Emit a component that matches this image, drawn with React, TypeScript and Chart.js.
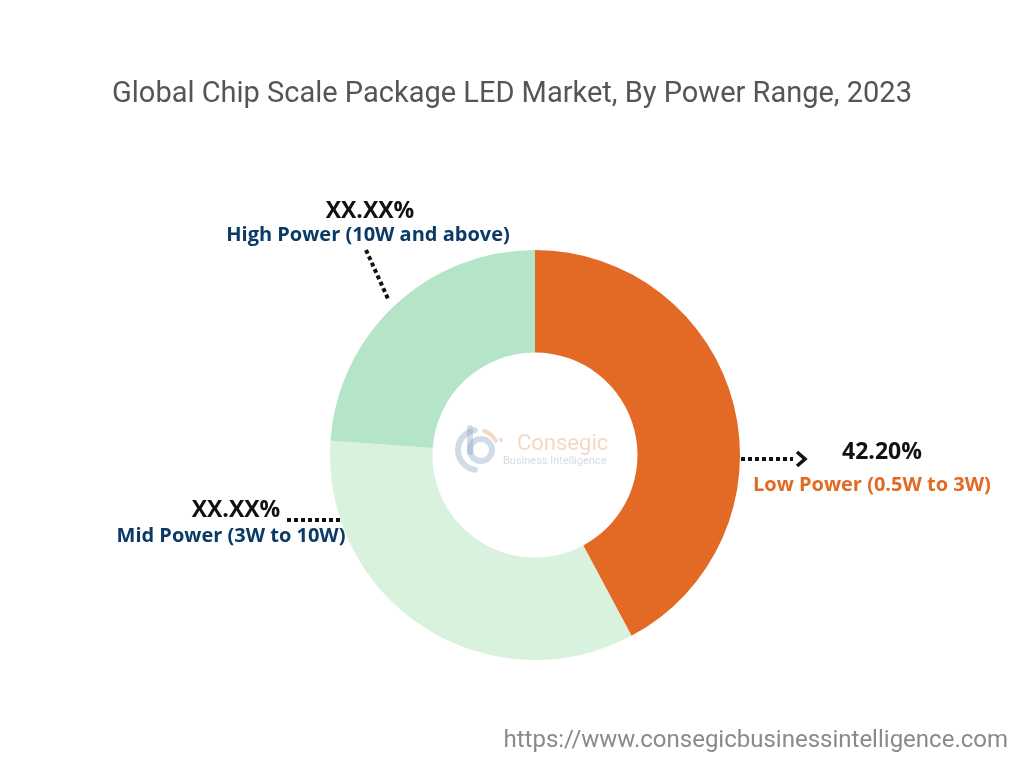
import React, { useEffect, useRef } from "react";
import { Chart, registerables } from "chart.js";

Chart.register(...registerables);

const chartTitle = "Global Chip Scale Package LED Market, By Power Range, 2023";
const categories = ["Low Power (0.5W to 3W)", "Mid Power (3W to 10W)", "High Power (10W and above)"];
const shares = [42.2, 33.9, 23.9];
const shareLabels = ["42.20%", "XX.XX%", "XX.XX%"];
const sliceColors = ["#e36a25", "#d9f2de", "#b5e5c8"];
const labelColors = ["#e36a25", "#0b3a66", "#0b3a66"];
const sourceUrl = "https://www.consegicbusinessintelligence.com";

const FONT = "Roboto, 'Noto Sans', sans-serif";
const LFONT = "'Open Sans', Roboto, sans-serif";

const overlayPlugin = {
  id: "overlay",
  afterDraw(chart: any) {
    const ctx = chart.ctx as CanvasRenderingContext2D;
    ctx.save();
    // title
    ctx.fillStyle = "#555555";
    ctx.font = `400 29px ${FONT}`;
    ctx.textAlign = "center";
    ctx.textBaseline = "middle";
    ctx.fillText(chartTitle, 512, 95);

    // url
    ctx.fillStyle = "#8a8a8a";
    ctx.font = `400 24px ${FONT}`;
    ctx.textAlign = "right";
    ctx.fillText(sourceUrl, 1008, 741);

    // leaders
    ctx.strokeStyle = "#111111";
    ctx.lineWidth = 4;
    ctx.setLineDash([4, 3]);
    ctx.lineCap = "butt";
    ctx.beginPath();
    ctx.moveTo(741, 459);
    ctx.lineTo(793, 459);
    ctx.stroke();
    ctx.beginPath();
    ctx.moveTo(287, 520);
    ctx.lineTo(341, 520);
    ctx.stroke();
    ctx.beginPath();
    ctx.moveTo(366, 250);
    ctx.lineTo(389, 301);
    ctx.stroke();
    ctx.setLineDash([]);
    ctx.lineWidth = 3.5;
    ctx.lineJoin = "miter";
    ctx.beginPath();
    ctx.moveTo(797, 452);
    ctx.lineTo(805, 459);
    ctx.lineTo(797, 466);
    ctx.stroke();

    // labels
    ctx.textBaseline = "middle";
    const pctFont = `700 23px ${LFONT}`;
    const catFont = `700 20px ${LFONT}`;
    // Low
    ctx.fillStyle = "#111111";
    ctx.font = pctFont;
    ctx.textAlign = "center";
    ctx.fillText(shareLabels[0], 882, 452);
    ctx.fillStyle = labelColors[0];
    ctx.font = catFont;
    ctx.textAlign = "left";
    ctx.fillText(categories[0], 753, 485);
    // Mid
    ctx.fillStyle = "#111111";
    ctx.font = pctFont;
    ctx.textAlign = "center";
    ctx.fillText(shareLabels[1], 236, 510);
    ctx.fillStyle = labelColors[1];
    ctx.font = catFont;
    ctx.fillText(categories[1], 231, 536);
    // High
    ctx.fillStyle = "#111111";
    ctx.font = pctFont;
    ctx.fillText(shareLabels[2], 370, 211);
    ctx.fillStyle = labelColors[2];
    ctx.font = catFont;
    ctx.fillText(categories[2], 368, 235);

    // watermark logo
    ctx.globalAlpha = 0.35;
    ctx.lineCap = "round";
    ctx.strokeStyle = "#7f9cbf";
    ctx.lineWidth = 6;
    ctx.beginPath();
    ctx.arc(478, 450, 20, Math.PI * 0.55, Math.PI * 1.45);
    ctx.stroke();
    ctx.beginPath();
    ctx.arc(481, 450, 11, 0, Math.PI * 2);
    ctx.stroke();
    ctx.beginPath();
    ctx.moveTo(470, 428);
    ctx.lineTo(470, 452);
    ctx.stroke();
    ctx.strokeStyle = "#e0905a";
    ctx.lineWidth = 4;
    ctx.beginPath();
    ctx.arc(478, 450, 20, Math.PI * 1.6, Math.PI * 1.85);
    ctx.stroke();
    ctx.fillStyle = "#e0905a";
    ctx.beginPath();
    ctx.arc(501, 440, 2, 0, Math.PI * 2);
    ctx.fill();
    ctx.font = `400 22px ${FONT}`;
    ctx.textAlign = "left";
    ctx.fillText("Consegic", 517, 444);
    ctx.fillStyle = "#7f9cbf";
    ctx.font = `400 11px ${FONT}`;
    ctx.fillText("Business Intelligence", 503, 461);
    ctx.restore();
  },
};

export default function App() {
  const ref = useRef<HTMLCanvasElement | null>(null);
  useEffect(() => {
    if (!ref.current) return;
    const chart = new Chart(ref.current, {
      type: "doughnut",
      data: {
        labels: categories,
        datasets: [
          {
            data: shares,
            backgroundColor: sliceColors,
            borderWidth: 0,
          },
        ],
      },
      options: {
        animation: false,
        responsive: false,
        cutout: "50%",
        layout: { padding: { left: 330, right: 284, top: 250, bottom: 108 } },
        plugins: {
          legend: { display: false },
          tooltip: { enabled: false },
          title: { display: false },
        },
      },
      plugins: [overlayPlugin],
    });
    return () => chart.destroy();
  }, []);
  return (
    <div style={{ position: "fixed", left: 0, top: 0, width: 1024, height: 768, background: "#ffffff" }}>
      <canvas ref={ref} width={1024} height={768} style={{ width: 1024, height: 768 }} />
    </div>
  );
}
